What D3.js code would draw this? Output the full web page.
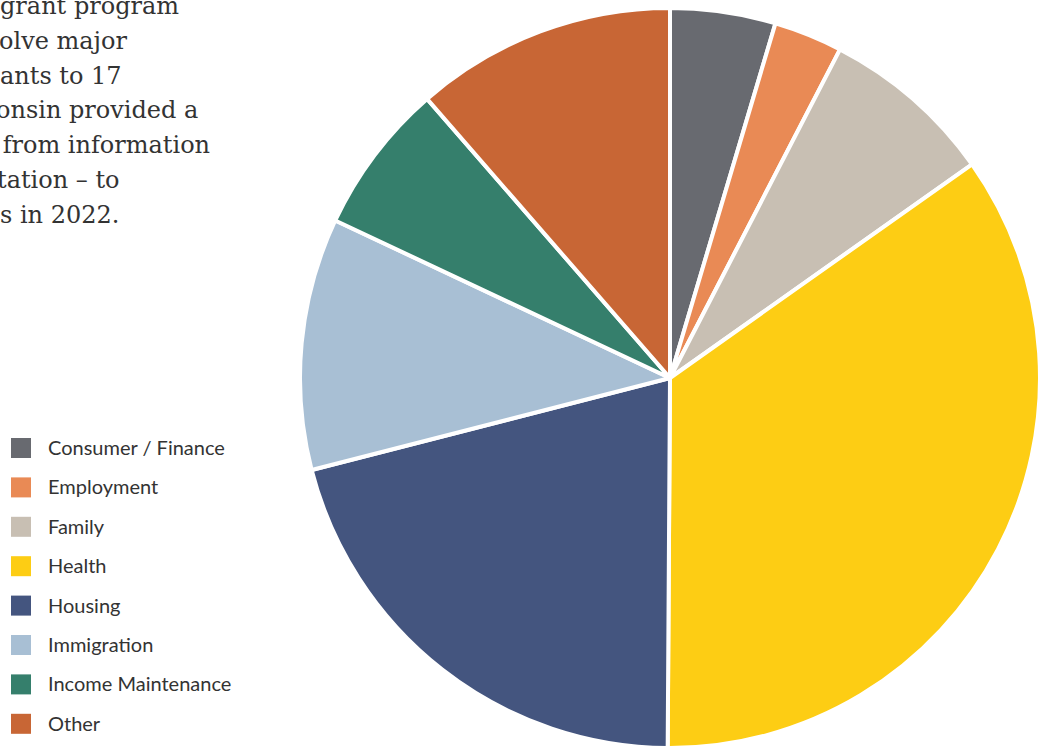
<!DOCTYPE html>
<html>
<head>
<meta charset="utf-8">
<script src="https://cdn.jsdelivr.net/npm/d3@7"></script>
<style>
  html, body { margin: 0; padding: 0; background: #fff; overflow: hidden; }
  svg { display: block; }
</style>
</head>
<body>
<div id="chart"></div>
<script>
// Share of cases by problem type (percent)
const categories = ["Consumer / Finance", "Employment", "Family", "Health", "Housing", "Immigration", "Income Maintenance", "Other"];
const shares = [4.6, 3.0, 7.6, 34.9, 20.9, 11.0, 6.6, 11.4];
const colors = ["#686a70", "#e98a55", "#c8bfb3", "#fdcd14", "#44557f", "#a8bfd4", "#357f6c", "#c86635"];

// visible (cropped) fragments of the paragraph at top left
const introLines = ["grant program", "olve major", "ants to 17", "onsin provided a", " from information", "tation – to", "s in 2022."];

const width = 1041, height = 748;

const svg = d3.select("#chart")
    .append("svg")
    .attr("width", width)
    .attr("height", height);

const data = categories.map((c, i) => ({ name: c, value: shares[i], color: colors[i] }));

// pie
const cx = 670, cy = 378, radius = 370;

const pie = d3.pie()
    .value(d => d.value)
    .sort(null);

const arc = d3.arc()
    .innerRadius(0)
    .outerRadius(radius);

svg.append("g")
    .attr("transform", `translate(${cx},${cy})`)
    .selectAll("path")
    .data(pie(data))
    .enter().append("path")
    .attr("d", arc)
    .attr("fill", d => d.data.color)
    .attr("stroke", "#fff")
    .attr("stroke-width", 4)
    .attr("stroke-linejoin", "round");

// paragraph fragment
const intro = svg.append("g")
    .attr("font-family", "'DejaVu Serif', serif")
    .attr("font-size", 24)
    .attr("fill", "#333");

const introX = [0, -1, 0, -4, -5, -3, 0];
intro.selectAll("text")
    .data(introLines)
    .enter().append("text")
    .attr("x", (d, i) => introX[i])
    .attr("y", (d, i) => 14 + i * 34.8)
    .attr("xml:space", "preserve")
    .style("white-space", "pre")
    .text(d => d);

// legend
const legend = svg.append("g")
    .attr("transform", "translate(11,438)");

const rowH = 39.4;
const item = legend.selectAll("g")
    .data(data)
    .enter().append("g")
    .attr("transform", (d, i) => `translate(0,${i * rowH})`);

item.append("rect")
    .attr("width", 20)
    .attr("height", 20)
    .attr("fill", d => d.color);

item.append("text")
    .attr("x", 37)
    .attr("y", 10)
    .attr("dy", "0.35em")
    .attr("font-family", "Lato, sans-serif")
    .attr("font-size", 20)
    .attr("fill", "#333")
    .text(d => d.name);
</script>
</body>
</html>
